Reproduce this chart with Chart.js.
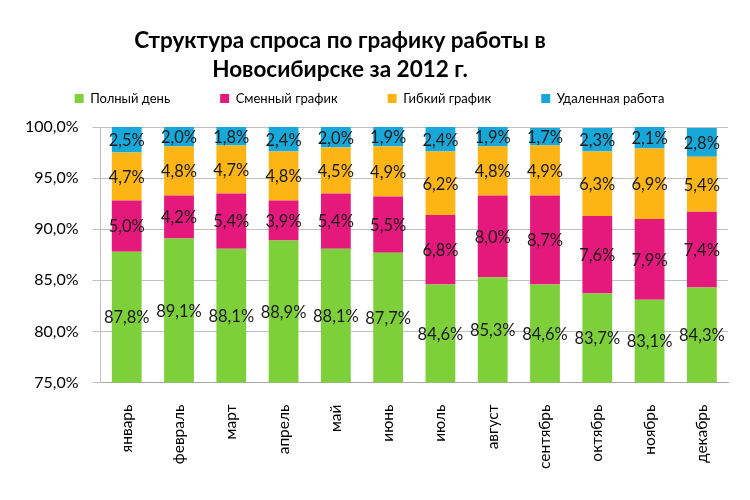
<!DOCTYPE html>
<html lang="ru">
<head>
<meta charset="UTF-8">
<title>Структура спроса по графику работы</title>
<script src="https://cdn.jsdelivr.net/npm/chart.js"></script>
<style>
    html, body { margin: 0; padding: 0; background: #fff; }
    .wrap { position: relative; width: 750px; height: 500px; }
    .title {
        position: absolute; left: 0; top: 25px; width: 680px;
        text-align: center; font-family: Lato, "Open Sans", sans-serif;
        font-weight: bold; font-size: 22.5px; line-height: 29px; color: #000;
    }
    canvas { position: absolute; left: 0; top: 0; }
</style>
</head>
<body>
<div class="wrap">
    <canvas id="demandChart" width="750" height="500"></canvas>
    <div class="title">Структура спроса по графику работы в<br>Новосибирске за 2012 г.</div>
</div>
<script>
const months = ['январь', 'февраль', 'март', 'апрель', 'май', 'июнь', 'июль', 'август', 'сентябрь', 'октябрь', 'ноябрь', 'декабрь'];
const seriesNames = ['Полный день', 'Сменный график', 'Гибкий график', 'Удаленная работа'];
const fullDay  = [87.8, 89.1, 88.1, 88.9, 88.1, 87.7, 84.6, 85.3, 84.6, 83.7, 83.1, 84.3];
const shifts   = [5.0, 4.2, 5.4, 3.9, 5.4, 5.5, 6.8, 8.0, 8.7, 7.6, 7.9, 7.4];
const flexible = [4.7, 4.8, 4.7, 4.8, 4.5, 4.9, 6.2, 4.8, 4.9, 6.3, 6.9, 5.4];
const remote   = [2.5, 2.0, 1.8, 2.4, 2.0, 1.9, 2.4, 1.9, 1.7, 2.3, 2.1, 2.8];
const yTicks = [75, 80, 85, 90, 95, 100];

const colors = ['#7ed03b', '#e5197c', '#fdb515', '#17a8d9'];
const fontFamily = 'Lato, "Open Sans", sans-serif';

function pct(v) {
    return v.toFixed(1).replace('.', ',') + '%';
}

// подписи значений по центру видимой части столбца
const valueLabels = {
    id: 'valueLabels',
    afterDatasetsDraw(chart) {
        const ctx = chart.ctx;
        const area = chart.chartArea;
        ctx.save();
        ctx.font = '16.5px ' + fontFamily;
        ctx.fillStyle = '#1a1a1a';
        ctx.textAlign = 'center';
        ctx.textBaseline = 'middle';
        chart.data.datasets.forEach((ds, i) => {
            chart.getDatasetMeta(i).data.forEach((bar, j) => {
                const top = Math.max(Math.min(bar.y, bar.base), area.top);
                const bottom = Math.min(Math.max(bar.y, bar.base), area.bottom);
                if (bottom <= top) return;
                ctx.fillText(pct(ds.data[j]), bar.x, (top + bottom) / 2 + 1);
            });
        });
        ctx.restore();
    }
};

// немного больше места под легендой
const legendGap = {
    id: 'legendGap',
    beforeLayout(chart) {
        const lg = chart.legend;
        if (lg && !lg._gapWrapped) {
            const fit = lg.fit;
            lg.fit = function () {
                fit.call(this);
                this.height += 12;
            };
            lg._gapWrapped = true;
        }
    }
};

const seriesData = [fullDay, shifts, flexible, remote];

new Chart(document.getElementById('demandChart'), {
    type: 'bar',
    data: {
        labels: months,
        datasets: seriesNames.map((name, i) => ({
            label: name,
            data: seriesData[i],
            backgroundColor: colors[i],
            borderWidth: 0,
            barPercentage: 0.57,
            categoryPercentage: 1
        }))
    },
    options: {
        responsive: false,
        animation: false,
        layout: { padding: { top: 42, left: 11, right: 22, bottom: 17 } },
        plugins: {
            legend: {
                position: 'top',
                labels: {
                    font: { family: fontFamily, size: 13 },
                    color: '#000',
                    boxWidth: 9,
                    boxHeight: 9,
                    padding: 50
                }
            },
            tooltip: { enabled: false }
        },
        scales: {
            x: {
                stacked: true,
                grid: { display: false },
                border: { color: '#a6a6a6' },
                ticks: {
                    font: { family: fontFamily, size: 15.5 },
                    color: '#000',
                    minRotation: 90,
                    maxRotation: 90,
                    padding: 14
                }
            },
            y: {
                stacked: true,
                min: 75,
                max: 100,
                afterBuildTicks(axis) {
                    axis.ticks = yTicks.map(v => ({ value: v }));
                },
                grid: { color: '#c0c0c0' },
                border: { color: '#c0c0c0' },
                ticks: {
                    font: { family: fontFamily, size: 16 },
                    color: '#000',
                    padding: 14,
                    callback: v => pct(v)
                }
            }
        }
    },
    plugins: [valueLabels, legendGap]
});
</script>
</body>
</html>
